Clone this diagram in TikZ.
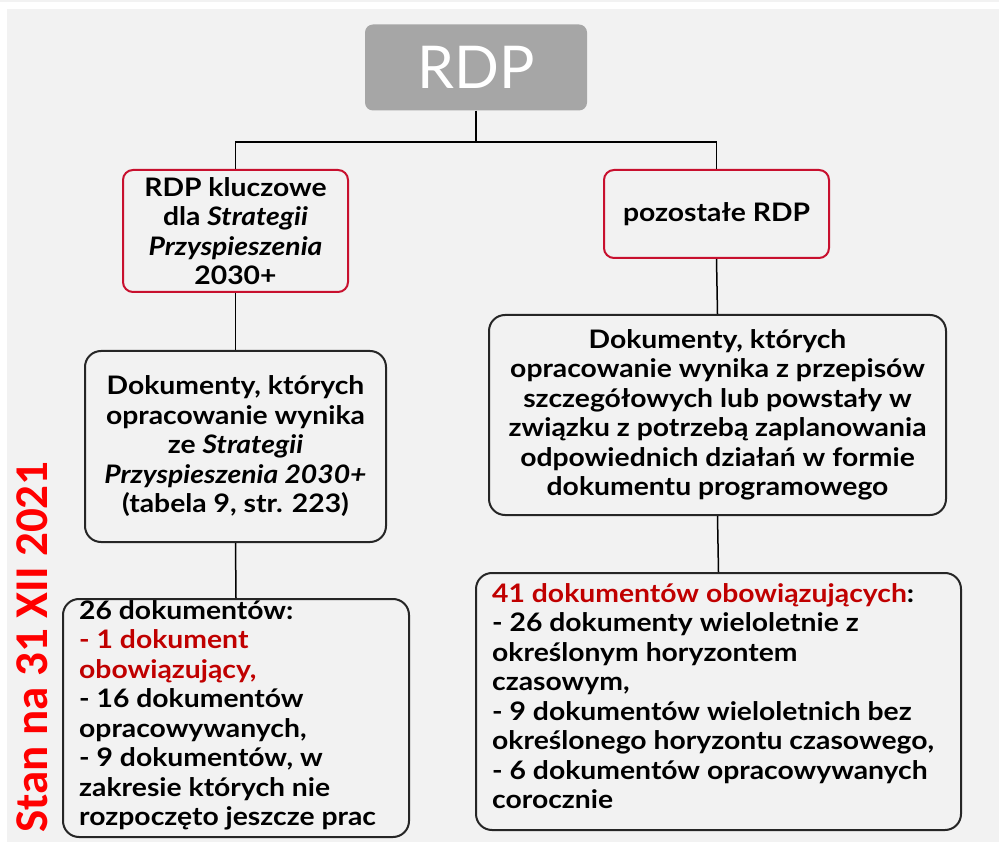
\documentclass[tikz,border=0pt]{standalone}
\usepackage{fontspec}
\setmainfont{Lato}[FakeStretch=1.11]
\newfontfamily\rdpfont{Lato}
\newfontfamily\carl{Carlito}
\definecolor{bg}{HTML}{F2F2F2}
\definecolor{rdpgray}{HTML}{A6A6A6}
\definecolor{dred}{HTML}{C00000}
\definecolor{bred}{HTML}{C8102E}
\definecolor{dk}{HTML}{262626}
\begin{document}
\begin{tikzpicture}[x=1pt,y=-1pt,
  txt/.style={font=\bfseries\fontsize{25.5}{29.5}\selectfont, text=black},
  rdpbox/.style={fill=rdpgray, rounded corners=8pt, inner sep=0pt, text=white, font=\rdpfont\fontsize{59}{59}\selectfont},
  redbox/.style={draw=bred, line width=2pt, rounded corners=10pt, fill=bg, inner sep=0pt, align=center, txt},
  blackbox/.style={draw=dk, line width=2pt, rounded corners=16pt, fill=bg, inner sep=0pt, align=center, txt},
  conn/.style={draw=black, line width=1.5pt}]
\useasboundingbox (0,0) rectangle (999,842);
\fill[white] (0,0) rectangle (999,842);
\fill[bg] (0,0) rectangle (999,2);
\fill[bg] (7,9) rectangle (999,842);

\coordinate (j) at (476,142);
\node[rdpbox, minimum width=222, minimum height=86] (rdp) at (476,67.5) {RDP};
\node[redbox, minimum width=225, minimum height=122] (k) at (235.5,231)
  {RDP kluczowe\\dla \textit{Strategii}\\\textit{Przyspieszenia}\\2030+};
\node[redbox, minimum width=225, minimum height=88] (p) at (716.5,214) {pozostałe RDP};
\node[blackbox, minimum width=301, minimum height=191] (d1) at (235.5,446.5)
  {Dokumenty, których\\opracowanie wynika\\ze \textit{Strategii}\\\textit{Przyspieszenia 2030+}\\(tabela 9, str. 223)};
\node[blackbox, minimum width=457, minimum height=200] (d2) at (717.5,415)
  {Dokumenty, których\\opracowanie wynika z przepisów\\szczegółowych lub powstały w\\związku z potrzebą zaplanowania\\odpowiednich działań w formie\\dokumentu programowego};
\node[blackbox, minimum width=346, minimum height=238] (c1) at (236,718) {};
\node[blackbox, minimum width=485, minimum height=257] (c2) at (718.5,701.5) {};

\node[txt, anchor=north west, align=left, inner sep=0pt] (c1t) at (79,600)
  {26 dokumentów:\\\textcolor{dred}{- 1 dokument}\\\textcolor{dred}{obowiązujący,}\\- 16 dokumentów\\opracowywanych,\\- 9 dokumentów, w\\zakresie których nie\\rozpoczęto jeszcze prac};
\node[txt, anchor=north west, align=left, inner sep=0pt] (c2t) at (492,583)
  {\textcolor{dred}{41 dokumentów obowiązujących}:\\- 26 dokumenty wieloletnie z\\określonym horyzontem\\czasowym,\\- 9 dokumentów wieloletnich bez\\określonego horyzontu czasowego,\\- 6 dokumentów opracowywanych\\corocznie};

\node[rotate=90, anchor=base west, inner sep=0pt, text=red, font=\carl\bfseries\fontsize{47}{47}\selectfont] (stan) at (47,833) {Stan na 31 XII 2021};

\draw[conn] (rdp.south) -- (j);
\draw[conn] (k.north) -- (k.north |- j) -- (p.north |- j) -- (p.north);
\draw[conn] (k.south) -- (d1.north);
\draw[conn] (p.south) -- (d2.north);
\draw[conn] (d1.south) -- (c1.north);
\draw[conn] (d2.south) -- (c2.north);
\end{tikzpicture}
\end{document}
